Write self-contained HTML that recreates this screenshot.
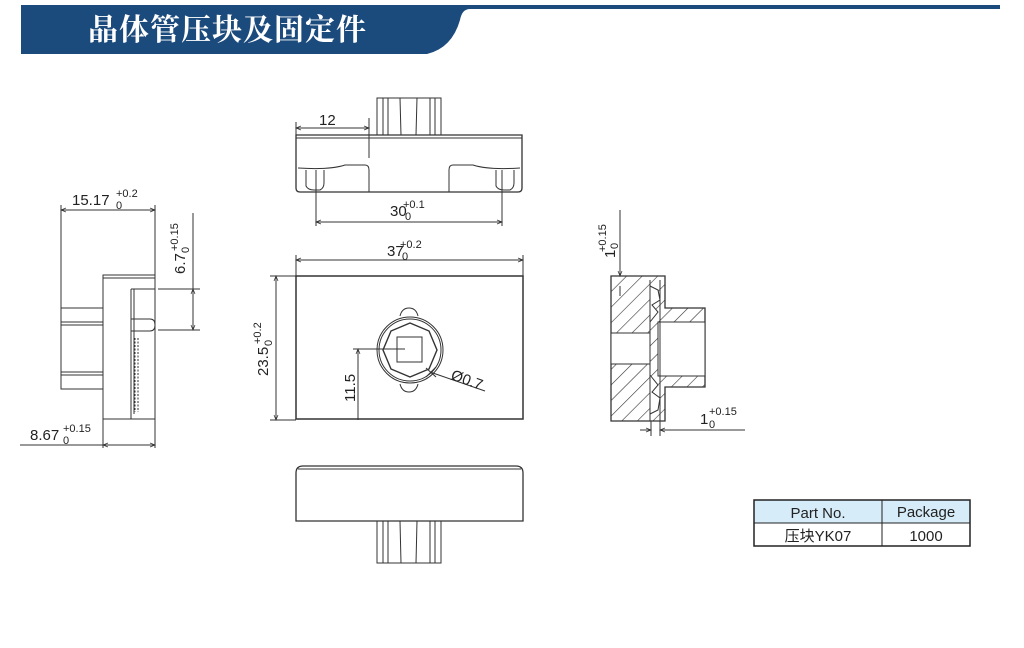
<!DOCTYPE html>
<html><head><meta charset="utf-8"><style>
html,body{margin:0;padding:0;background:#fff;width:1024px;height:648px;overflow:hidden}
svg{display:block}
text{font-family:"Liberation Sans","Noto Sans CJK SC",sans-serif;fill:#222}
</style></head><body>
<svg width="1024" height="648" viewBox="0 0 1024 648" xmlns="http://www.w3.org/2000/svg">
<defs>
<marker id="a" viewBox="0 0 10 10" refX="10" refY="5" markerWidth="7" markerHeight="5" orient="auto-start-reverse"><path d="M0,1 L10,5 L0,9" fill="none" stroke="#333" stroke-width="1.5"/></marker>
<pattern id="h" width="11" height="11" patternUnits="userSpaceOnUse" patternTransform="rotate(45)"><line x1="0" y1="0" x2="0" y2="11" stroke="#333" stroke-width="1.2"/></pattern>
</defs>
<!-- header -->
<path d="M21,5 L1000,5 L1000,9 L470,9 Q462,9 460,20 Q452,48 427,54 L21,54 Z" fill="#1b4a7d"/>
<text x="88" y="40" font-size="30" font-weight="bold" style="fill:#fff;font-family:'Noto Serif CJK SC',serif" letter-spacing="1">晶体管压块及固定件</text>

<g stroke="#333" stroke-width="1" fill="none">
<!-- top view -->
<rect x="377" y="98" width="64" height="37"/>
<line x1="383" y1="98" x2="383" y2="135"/><line x1="388" y1="98" x2="388" y2="135"/>
<line x1="400" y1="98" x2="401" y2="135"/><line x1="417" y1="98" x2="416" y2="135"/>
<line x1="430" y1="98" x2="430" y2="135"/><line x1="435" y1="98" x2="435" y2="135"/>
<path d="M296,135 L522,135 L522,188 Q522,192 518,192 L300,192 Q296,192 296,188 Z" stroke-width="1.3"/>
<line x1="296" y1="138" x2="522" y2="138"/>
<path d="M298,168 Q330,170 345,165 L365,165 Q369,165 369,170 L369,192"/>
<path d="M520,168 Q488,170 473,165 L453,165 Q449,165 449,170 L449,192"/>
<path d="M306,170 L306,186 Q308,190 314,190 L320,190 Q324,188 324,183 L324,170"/>
<path d="M496,170 L496,186 Q498,190 504,190 L510,190 Q514,188 514,183 L514,170"/>
<line x1="296" y1="122" x2="296" y2="135"/>
<line x1="369" y1="118" x2="369" y2="158"/>
<line x1="296" y1="128" x2="369" y2="128" marker-start="url(#a)" marker-end="url(#a)"/>
<line x1="316" y1="170" x2="316" y2="226"/><line x1="502" y1="170" x2="502" y2="226"/>
<line x1="316" y1="222" x2="502" y2="222" marker-start="url(#a)" marker-end="url(#a)"/>

<!-- front view -->
<rect x="296" y="276" width="227" height="143" stroke-width="1.5"/>
<line x1="296" y1="255" x2="296" y2="276"/><line x1="523" y1="255" x2="523" y2="276"/>
<line x1="296" y1="260" x2="523" y2="260" marker-start="url(#a)" marker-end="url(#a)"/>
<line x1="270" y1="276" x2="296" y2="276"/><line x1="270" y1="420" x2="296" y2="420"/>
<line x1="276" y1="276" x2="276" y2="420" marker-start="url(#a)" marker-end="url(#a)"/>
<path d="M400,316 Q402,308 409,308 Q416,308 418,316"/>
<path d="M400,384 Q402,392 409,392 Q416,392 418,384"/>
<circle cx="410" cy="350" r="33"/>
<circle cx="410" cy="350" r="31"/>
<polygon points="410,323 429,331 437,350 429,369 410,377 391,369 383,350 391,331" stroke-width="1.4"/>
<rect x="397" y="337" width="25" height="25"/>
<line x1="353" y1="349" x2="405" y2="349"/>
<line x1="358" y1="349" x2="358" y2="420" marker-start="url(#a)"/>
<line x1="430" y1="372" x2="485" y2="391"/>
<line x1="426" y1="368" x2="436" y2="377"/><line x1="436" y1="367" x2="426" y2="377"/>

<!-- left side view -->
<rect x="103" y="275" width="52" height="144"/>
<line x1="103" y1="278" x2="155" y2="278"/>
<line x1="131" y1="289" x2="131" y2="419"/><line x1="131" y1="289" x2="155" y2="289"/>
<line x1="134" y1="289" x2="134" y2="414"/>
<path d="M131,319 L150,319 Q155,319 155,325 Q155,331 150,331 L131,331"/>
<path d="M135,338 L135,412 M138,338 L138,412" stroke-dasharray="2,1.5"/>
<rect x="61" y="308" width="42" height="81"/>
<line x1="61" y1="322" x2="103" y2="322"/><line x1="61" y1="325" x2="103" y2="325"/>
<line x1="61" y1="372" x2="103" y2="372"/><line x1="61" y1="375" x2="103" y2="375"/>
<line x1="61" y1="205" x2="61" y2="308"/><line x1="155" y1="205" x2="155" y2="275"/>
<line x1="61" y1="210" x2="155" y2="210" marker-start="url(#a)" marker-end="url(#a)"/>
<line x1="158" y1="289" x2="200" y2="289"/><line x1="158" y1="330" x2="200" y2="330"/>
<line x1="193" y1="213" x2="193" y2="330" marker-end="url(#a)"/>
<line x1="193" y1="289" x2="193" y2="330" marker-start="url(#a)"/>
<line x1="103" y1="419" x2="103" y2="448"/><line x1="155" y1="419" x2="155" y2="448"/>
<line x1="20" y1="445" x2="103" y2="445"/>
<line x1="103" y1="445" x2="155" y2="445" marker-start="url(#a)" marker-end="url(#a)"/>

<!-- section view -->
<path d="M611,276 L665,276 L665,308 L705,308 L705,387 L665,387 L665,421 L611,421 Z M611,333 L650,333 L650,364 L611,364 Z M658,322 L705,322 L705,376 L658,376 Z" fill="url(#h)" fill-rule="evenodd"/>
<path d="M611,276 L665,276 L665,308 L705,308 L705,387 L665,387 L665,421 L611,421 Z" stroke-width="1.3"/>
<rect x="611" y="333" width="39" height="31" fill="#fff"/>
<rect x="658" y="322" width="47" height="54" fill="#fff"/>
<path d="M650,286 L658,290 L660,300 L652,305 L658,312 L650,322 L650,333" fill="#fff"/>
<path d="M650,364 L650,375 L658,385 L652,392 L660,398 L658,410 L650,414" fill="#fff"/>
<line x1="650" y1="280" x2="650" y2="421"/><line x1="660" y1="280" x2="660" y2="421"/>
<line x1="620" y1="210" x2="620" y2="276" marker-end="url(#a)"/>
<line x1="620" y1="286" x2="620" y2="296"/>
<line x1="651" y1="421" x2="651" y2="436"/><line x1="660" y1="421" x2="660" y2="436"/>
<line x1="640" y1="430" x2="651" y2="430" marker-end="url(#a)"/>
<line x1="745" y1="430" x2="660" y2="430" marker-end="url(#a)"/>

<!-- bottom view -->
<path d="M296,473 Q296,466 303,466 L516,466 Q523,466 523,473 L523,521 L296,521 Z" stroke-width="1.3"/>
<line x1="298" y1="469" x2="521" y2="469"/>
<rect x="377" y="521" width="64" height="42"/>
<line x1="383" y1="521" x2="383" y2="563"/><line x1="388" y1="521" x2="388" y2="563"/>
<line x1="400" y1="521" x2="401" y2="563"/><line x1="417" y1="521" x2="416" y2="563"/>
<line x1="430" y1="521" x2="430" y2="563"/><line x1="435" y1="521" x2="435" y2="563"/>
</g>

<!-- dimension text -->
<g font-size="15">
<text x="319" y="125">12</text>
<text x="390" y="216">30</text><text x="405" y="220" font-size="11">0</text><text x="403" y="208" font-size="11">+0.1</text>
<text x="387" y="256">37</text><text x="402" y="260" font-size="11">0</text><text x="400" y="248" font-size="11">+0.2</text>
<text x="72" y="205">15.17</text><text x="116" y="209" font-size="11">0</text><text x="116" y="197" font-size="11">+0.2</text>
<text x="30" y="440">8.67</text><text x="63" y="444" font-size="11">0</text><text x="63" y="432" font-size="11">+0.15</text>
<text transform="translate(185,274) rotate(-90)">6.7</text>
<text transform="translate(189,253) rotate(-90)" font-size="11">0</text>
<text transform="translate(178,251) rotate(-90)" font-size="11">+0.15</text>
<text transform="translate(268,376) rotate(-90)">23.5</text>
<text transform="translate(272,346) rotate(-90)" font-size="11">0</text>
<text transform="translate(261,344) rotate(-90)" font-size="11">+0.2</text>
<text transform="translate(355,402) rotate(-90)">11.5</text>
<text transform="translate(450,379) rotate(20)">Ø0.7</text>
<text transform="translate(615,258) rotate(-90)">1</text>
<text transform="translate(618,249) rotate(-90)" font-size="11">0</text>
<text transform="translate(606,252) rotate(-90)" font-size="11">+0.15</text>
<text x="700" y="424">1</text><text x="709" y="428" font-size="11">0</text><text x="709" y="415" font-size="11">+0.15</text>
</g>

<!-- table -->
<rect x="754" y="500" width="216" height="23" fill="#d6ecf8"/>
<rect x="754" y="500" width="216" height="46" fill="none" stroke="#222" stroke-width="1.5"/>
<line x1="754" y1="523" x2="970" y2="523" stroke="#222" stroke-width="1"/>
<line x1="882" y1="500" x2="882" y2="546" stroke="#222" stroke-width="1"/>
<text x="818" y="518" font-size="15" text-anchor="middle">Part No.</text>
<text x="926" y="517" font-size="15" text-anchor="middle">Package</text>
<text x="818" y="541" font-size="15" text-anchor="middle">压块YK07</text>
<text x="926" y="541" font-size="15" text-anchor="middle">1000</text>
</svg>
</body></html>
